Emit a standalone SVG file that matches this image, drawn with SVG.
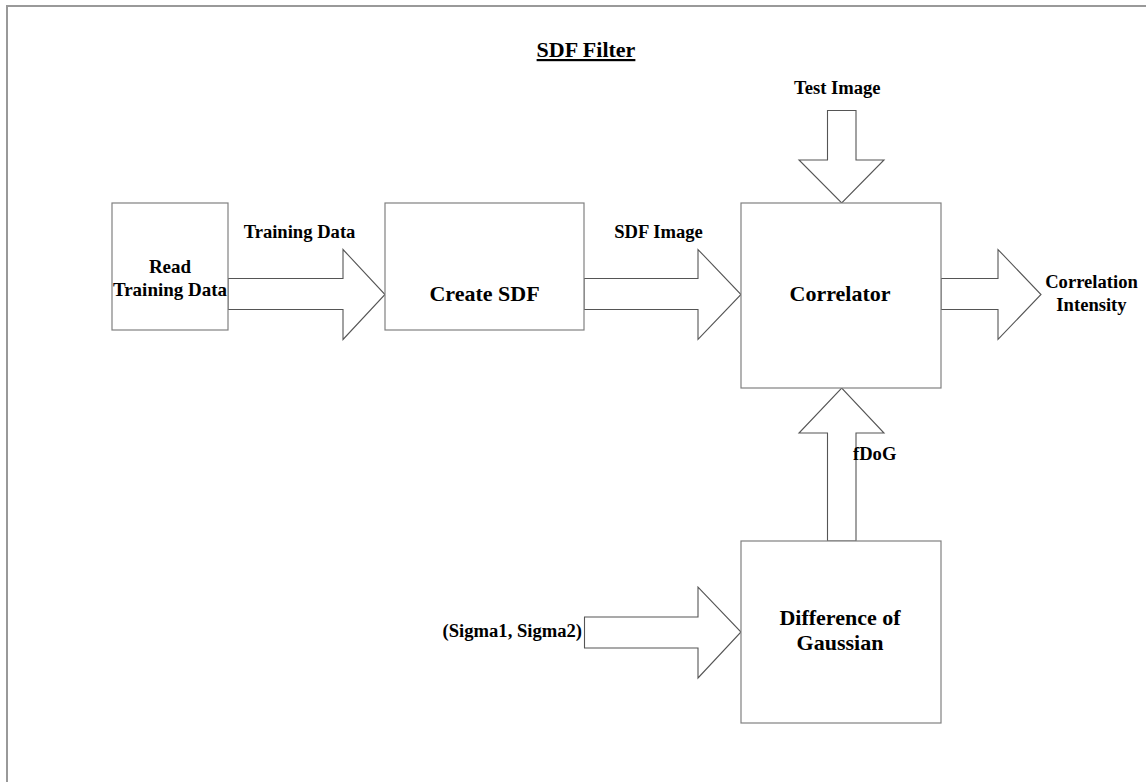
<svg xmlns="http://www.w3.org/2000/svg" width="1146" height="782" viewBox="0 0 1146 782">
  <style>
    .frame { fill: none; stroke: #999999; stroke-width: 2; }
    .box { fill: #ffffff; stroke: #808080; stroke-width: 1.2; }
    .arrow { fill: #ffffff; stroke: #555555; stroke-width: 1.1; stroke-linejoin: miter; }
    .big { font-family: "Liberation Serif", "Times New Roman", serif; font-weight: bold; font-size: 22px; fill: #000; }
    .narrow { font-size: 19px; }
    .small { font-family: "Liberation Serif", "Times New Roman", serif; font-weight: bold; font-size: 18.6px; fill: #000; }
    .title { font-family: "Liberation Serif", "Times New Roman", serif; font-weight: bold; font-size: 22px; fill: #000; text-decoration: underline; }
  </style>
  <rect x="0" y="0" width="1146" height="782" fill="#ffffff"/>
  <!-- outer page frame (right and bottom edges run past the canvas) -->
  <rect class="frame" x="7" y="6" width="1300" height="900"/>

  <text class="title" x="586" y="57" text-anchor="middle">SDF Filter</text>

  <!-- block arrows -->
  <g id="connectors">
    <!-- Read Training Data -> Create SDF -->
    <polygon class="arrow" points="228,278.5 343,278.5 343,249.5 385,294.5 343,339.5 343,309.5 228,309.5"/>
    <!-- Create SDF -> Correlator -->
    <polygon class="arrow" points="584,278.5 698,278.5 698,249.5 741,294.5 698,339.5 698,309.5 584,309.5"/>
    <!-- Correlator -> output -->
    <polygon class="arrow" points="941,278.5 998,278.5 998,249.5 1041,294.5 998,339.5 998,309.5 941,309.5"/>
    <!-- Test Image -> Correlator -->
    <polygon class="arrow" points="827.5,110.5 856,110.5 856,160 884,160 841.7,203 799,160 827.5,160"/>
    <!-- Difference of Gaussian -> Correlator -->
    <polygon class="arrow" points="827.5,541 827.5,433 799,433 841.7,388 884,433 856,433 856,541"/>
    <!-- sigma input -> Difference of Gaussian -->
    <polygon class="arrow" points="584.5,617 698,617 698,587 741,632 698,678 698,648 584.5,648"/>
  </g>

  <g id="read-training-data">
    <rect class="box" x="112" y="203" width="116" height="127"/>
    <text class="big narrow" x="170" y="273" text-anchor="middle">Read</text>
    <text class="big narrow" x="170" y="296" text-anchor="middle">Training Data</text>
  </g>
  <g id="create-sdf">
    <rect class="box" x="385" y="203" width="199" height="127"/>
    <text class="big" x="484.5" y="301" text-anchor="middle">Create SDF</text>
  </g>
  <g id="correlator">
    <rect class="box" x="741" y="203" width="200" height="185"/>
    <text class="big" x="840" y="301" text-anchor="middle">Correlator</text>
  </g>
  <g id="difference-of-gaussian">
    <rect class="box" x="741" y="541" width="200" height="182"/>
    <text class="big" x="840" y="625" text-anchor="middle">Difference of</text>
    <text class="big" x="840" y="650" text-anchor="middle">Gaussian</text>
  </g>

  <g id="labels">
    <text class="small" x="299.5" y="238" text-anchor="middle">Training Data</text>
    <text class="small" x="658.5" y="238" text-anchor="middle">SDF Image</text>
    <text class="small" x="794" y="94">Test Image</text>
    <text class="small" x="853" y="460">fDoG</text>
    <text class="small" x="1091.5" y="288" text-anchor="middle">Correlation</text>
    <text class="small" x="1091.5" y="311" text-anchor="middle">Intensity</text>
    <text class="small" x="582" y="637" text-anchor="end">(Sigma1, Sigma2)</text>
  </g>
</svg>
